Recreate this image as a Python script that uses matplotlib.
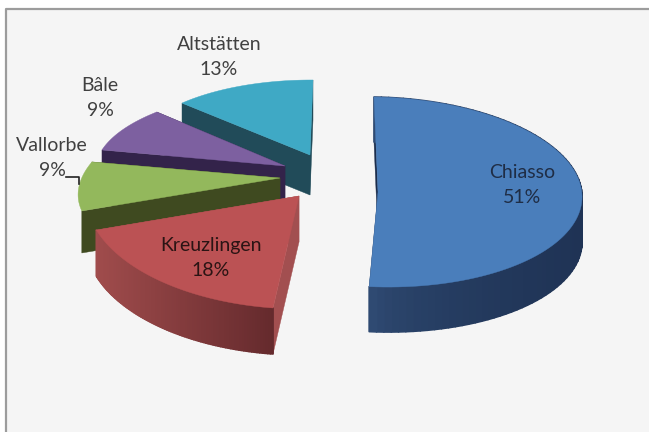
import numpy as np
import matplotlib
matplotlib.use('Agg')
from matplotlib import pyplot as plt
from matplotlib.collections import PolyCollection
from matplotlib.colors import to_rgb

plt.rcParams['font.family'] = ['Lato', 'DejaVu Sans']

# data, clockwise from 12 o'clock
names = ['Chiasso', 'Kreuzlingen', 'Vallorbe', 'Bâle', 'Altstätten']
shares = [51, 18, 9, 9, 13]

# layout of each exploded slice (pixels): apex and the affine squash of the unit circle
apex = [(378, 192), (299, 196), (280, 178), (285, 166), (310, 155)]
squash = [(204, -4, 3, -95), (213, 12.6, 8, -112.7), (198.5, 37, -0.5, -88.3),
          (189, 14, 1.6, -77.2), (178.4, 3, 0.8, -75)]
depth = [45, 46, 42, 40, 40]
show_side = [True, True, False, False, False]  # the back slices hide their rounded side

top_colors = ['#4a7ebb', '#bb5254', '#93b85c', '#7d60a0', '#3fa9c5']
cut_colors = ['#1b2d4c', '#a24f50', '#3f4a20', '#33234a', '#214b59']
side_light = ['#34527c', '#a04c4c', None, None, None]
side_dark = ['#1f3355', '#652a2d', None, None, None]
side_power = [0.4, 1.0, 1, 1, 1]

label_pos = [(522, 185), (211, 258), (52, 158), (100, 98), (219, 57)]
label_colors = ['#1f2d45', '#2a1414', '#404040', '#404040', '#404040']
draw_order = [4, 3, 2, 1, 0]

fig = plt.figure(figsize=(6.49, 4.32), dpi=100, facecolor='white')
ax = fig.add_axes([0, 0, 1, 1])
ax.set_xlim(0, 649)
ax.set_ylim(432, 0)
ax.axis('off')

# chart area with its grey frame on top and left
ax.fill([6, 649, 649, 6], [9, 9, 432, 432], color='#f5f5f5', lw=0, zorder=0)
ax.plot([6, 6, 649], [432, 9, 9], color='#9c9c9c', lw=1.6, zorder=1)

edges = np.radians(np.cumsum([0] + shares) * 3.6)


def project(i, theta):
    a, b, c, d = squash[i]
    return (apex[i][0] + a * np.sin(theta) + b * np.cos(theta),
            apex[i][1] + c * np.sin(theta) + d * np.cos(theta))


z = 2
for i in draw_order:
    t = np.linspace(edges[i], edges[i + 1], 90)
    x, y = project(i, t)
    h = depth[i]

    # flat cut faces
    for k in (x[0], y[0]), (x[-1], y[-1]):
        ax.fill([apex[i][0], k[0], k[0], apex[i][0]],
                [apex[i][1], k[1], k[1] + h, apex[i][1] + h],
                color=cut_colors[i], lw=0.3, zorder=z)

    # rounded side, shaded from light on its left to dark on its right
    if show_side[i]:
        quads = [[(x[j], y[j]), (x[j + 1], y[j + 1]), (x[j + 1], y[j + 1] + h), (x[j], y[j] + h)]
                 for j in range(len(t) - 1)]
        v = (x[:-1] - x.min()) / (x.max() - x.min())
        c0 = np.array(to_rgb(side_light[i]))
        c1 = np.array(to_rgb(side_dark[i]))
        cols = [tuple(c0 + (c1 - c0) * s ** side_power[i]) for s in v]
        ax.add_collection(PolyCollection(quads, facecolors=cols, edgecolors=cols, linewidths=1.2, zorder=z))

    # top face
    ax.fill(np.r_[apex[i][0], x], np.r_[apex[i][1], y], color=top_colors[i], lw=0.3, zorder=z + 0.5)
    z += 1

for i in range(len(names)):
    ax.text(label_pos[i][0], label_pos[i][1], f'{names[i]}\n{shares[i]}%', ha='center', va='center',
            fontsize=14, color=label_colors[i], linespacing=1.6, zorder=20)

# leader line for Vallorbe
ax.plot([66, 79, 79], [177, 177, 184], color='#222222', lw=1.2, zorder=20)

fig.savefig('out.png', dpi=100, facecolor=fig.get_facecolor())
